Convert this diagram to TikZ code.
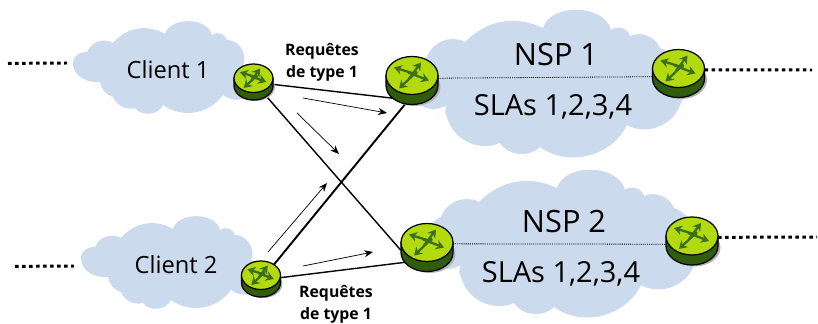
\documentclass[tikz,border=0pt]{standalone}
\usepackage{fontspec}
\setmainfont{Open Sans}
\usetikzlibrary{arrows.meta,shapes.geometric}

\definecolor{cloudblue}{RGB}{203,218,236}
\definecolor{routerlime}{RGB}{178,218,14}
\definecolor{routerdark}{RGB}{48,92,14}
\definecolor{routerarrow}{RGB}{58,112,30}

\tikzset{
  routerbox/.style={ellipse,inner sep=0pt,minimum width=#1*2*.02cm,minimum height=#1*1.84*.02cm},
  linkline/.style={black,line width=.8pt},
  flowarrow/.style={black,line width=.4pt,-{Stealth[length=5pt,width=4pt]}},
  farline/.style={black,line width=1.7pt,dash pattern=on 2pt off 2pt},
  insideline/.style={black,line width=.45pt,dash pattern=on .6pt off .6pt},
  iconarrow/.style={routerarrow,line width=1.3pt,-{Stealth[length=4.5pt,width=5.5pt]}},
  clientcloud/.pic={
    \fill[cloudblue] (100,82) .. controls (70,84) and (64,52) .. (87,52) to[bend left=50] (113,43)
      to[bend left=40] (165,34) to[bend left=75] (212,35) to[bend left=60] (227,40)
      to[bend left=60] (243,65) to[bend left=60] (253,93) to[bend left=40] (223,95)
      to[bend left=45] (163,105) to[bend left=60] (135,108) to[bend left=40] (113,97)
      to[bend left=30] (100,82);
  },
  nspcloud/.pic={
    \fill[cloudblue] (420,105) to[bend left=60] (427,57) to[bend left=50] (465,42)
      to[bend left=35] (543,28) to[bend left=75] (611,30) to[bend left=60] (630,36)
      to[bend left=45] (660,48) to[bend left=50] (680,105) to[bend left=50] (627,125)
      to[bend left=50] (540,147) to[bend left=50] (500,143) to[bend left=50] (447,117)
      to[bend left=30] (447,105) to[bend left=30] (420,105);
  },
  router/.pic={
    \fill[black!30] (2.5,6.5) ellipse (26 and 19);
    \filldraw[routerdark,draw=black,line width=.7pt] (-26,-5) -- (-26,5) arc[start angle=180,end angle=0,x radius=26,y radius=19]
      -- (26,-5) -- cycle;
    \filldraw[routerlime,draw=black,line width=.7pt] (0,-5) ellipse (26 and 19);
    \draw[iconarrow] (-3,-2) -- (9,-18);
    \draw[iconarrow] (5,-6) -- (-18,-13);
    \draw[iconarrow] (-4,-8) -- (17,0);
    \draw[iconarrow] (5,-9) -- (-13,8);
  }
}

\begin{document}
\begin{tikzpicture}[x=.02cm,y=-.02cm]
\useasboundingbox (0,0) rectangle (818,324);

\pic at (0,0) {clientcloud};
\pic at (8,195) {clientcloud};
\pic at (0,0) {nspcloud};
\pic at (14,160) {nspcloud};

\node[routerbox=19.5] (c1) at (253.5,82) {};
\node[routerbox=19.5] (c2) at (261,279) {};
\node[routerbox=26] (n1) at (412,80.5) {};
\node[routerbox=26] (n2) at (427,247.5) {};
\node[routerbox=26] (e1) at (678.5,73.5) {};
\node[routerbox=26] (e2) at (692,241) {};

\coordinate (c1far) at (8,63.4);
\coordinate (c1near) at (67,63);
\coordinate (c2far) at (15,266.4);
\coordinate (c2near) at (74,266);
\coordinate (e1far) at (812,70);
\coordinate (e2far) at (817,237);

\draw[linkline] (c1.-7) -- (n1.225);
\draw[linkline] (c1.-48) -- (n2.186);
\draw[linkline,line width=1.1pt] (c2.48) -- (n1.254);
\draw[linkline] (c2.4) -- (n2.215);

\draw[insideline] (n1.5) -- (e1.187);
\draw[insideline] (n2.8) -- (e2.187);
\draw[farline] (c1far) -- (c1near);
\draw[farline] (c2far) -- (c2near);
\draw[farline] (e1.8) -- (e1far);
\draw[farline] (e2.8) -- (e2far);

\coordinate (a1s) at (303,98);
\coordinate (a1e) at (387,113);
\coordinate (a2s) at (297,113);
\coordinate (a2e) at (339,154);
\coordinate (a3s) at (268,252);
\coordinate (a3e) at (327,183);
\coordinate (a4s) at (303,266);
\coordinate (a4e) at (373,252);
\draw[flowarrow] (a1s) -- (a1e);
\draw[flowarrow] (a2s) -- (a2e);
\draw[flowarrow] (a3s) -- (a3e);
\draw[flowarrow] (a4s) -- (a4e);

\pic[scale=.75] at (c1) {router};
\pic[scale=.75] at (c2) {router};
\pic at (n1) {router};
\pic at (n2) {router};
\pic at (e1) {router};
\pic at (e2) {router};

\node[font=\fontsize{13.5}{16}\selectfont] (c1txt) at (168,70) {Client 1};
\node[font=\fontsize{13.5}{16}\selectfont] (c2txt) at (176,265) {Client 2};
\node[font=\fontsize{17.5}{20}\selectfont] (n1txt) at (556,55) {NSP 1};
\node[font=\fontsize{17.5}{20}\selectfont] (n2txt) at (564,222) {NSP 2};
\node[font=\fontsize{16.5}{18}\selectfont] (s1txt) at (553,107) {SLAs 1,2,3,4};
\node[font=\fontsize{16.5}{18}\selectfont] (s2txt) at (561,274) {SLAs 1,2,3,4};
\node[font=\bfseries\fontsize{9}{12.5}\selectfont,align=center] (r1txt) at (322,62) {Requêtes\\de type 1};
\node[font=\bfseries\fontsize{9}{12.5}\selectfont,align=center] (r2txt) at (336,304) {Requêtes\\de type 1};

\end{tikzpicture}
\end{document}
